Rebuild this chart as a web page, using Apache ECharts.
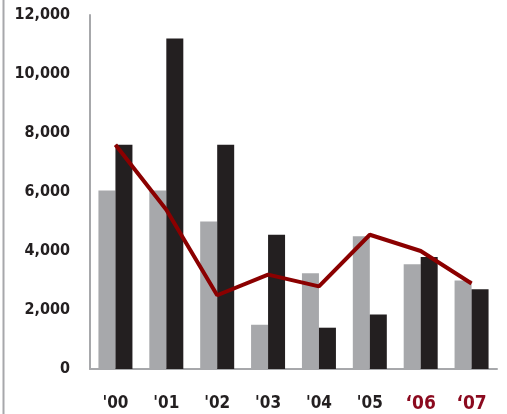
<!DOCTYPE html>
<html><head><meta charset="utf-8">
<script src="https://cdn.jsdelivr.net/npm/echarts@6/dist/echarts.min.js"></script>
<style>html,body{margin:0;padding:0;background:#fff}#c{width:507px;height:414px}</style>
</head><body><div id="c"></div>
<script>
const categories = ["'00", "'01", "'02", "'03", "'04", "'05", "‘06", "‘07"];
const grayValues = [6050, 6050, 5000, 1500, 3250, 4500, 3550, 3000];
const blackValues = [7600, 11200, 7600, 4550, 1400, 1850, 3800, 2700];
const lineValues = [7600, 5400, 2500, 3200, 2800, 4550, 4000, 2900];
const yTicks = [0, 2000, 4000, 6000, 8000, 10000, 12000];
const highlighted = ["‘06", "‘07"];

const chart = echarts.init(document.getElementById('c'), null, {renderer: 'canvas'});
const fontFam = '"DejaVu Sans Condensed", "DejaVu Sans", sans-serif';
chart.setOption({
  animation: false,
  graphic: [{type: 'line', shape: {x1: 3.5, y1: 0, x2: 3.5, y2: 414}, style: {stroke: '#a7a8ab', lineWidth: 2}}],
  grid: {left: 90, right: 10, top: 15, bottom: 45},
  xAxis: {
    type: 'category', data: categories,
    axisLine: {lineStyle: {color: '#a7a8ab', width: 2}},
    axisTick: {show: false},
    axisLabel: {
      interval: 0, margin: 26, fontFamily: fontFam, fontSize: 17, fontWeight: 'bold', color: '#231f20',
      formatter: v => highlighted.includes(v) ? '{h|' + v + '}' : v,
      rich: {h: {fontFamily: fontFam, fontSize: 19, fontWeight: 'bold', color: '#8b0a1f'}}
    }
  },
  yAxis: {
    type: 'value', min: yTicks[0], max: yTicks[yTicks.length - 1], interval: 2000,
    axisLine: {show: true, lineStyle: {color: '#a7a8ab', width: 2}},
    axisTick: {show: false},
    splitLine: {show: false},
    axisLabel: {
      margin: 20, fontFamily: fontFam, fontSize: 16, fontWeight: 'bold', color: '#231f20',
      formatter: v => v.toLocaleString('en-US')
    }
  },
  series: [
    {type: 'bar', data: grayValues, barWidth: 17, barGap: '0%', itemStyle: {color: '#a7a8ab'}},
    {type: 'bar', data: blackValues, barWidth: 17, barGap: '0%', itemStyle: {color: '#231f20'}},
    {type: 'line', data: lineValues, symbol: 'none', lineStyle: {color: '#8b0000', width: 4}, z: 5}
  ]
});
</script></body></html>
